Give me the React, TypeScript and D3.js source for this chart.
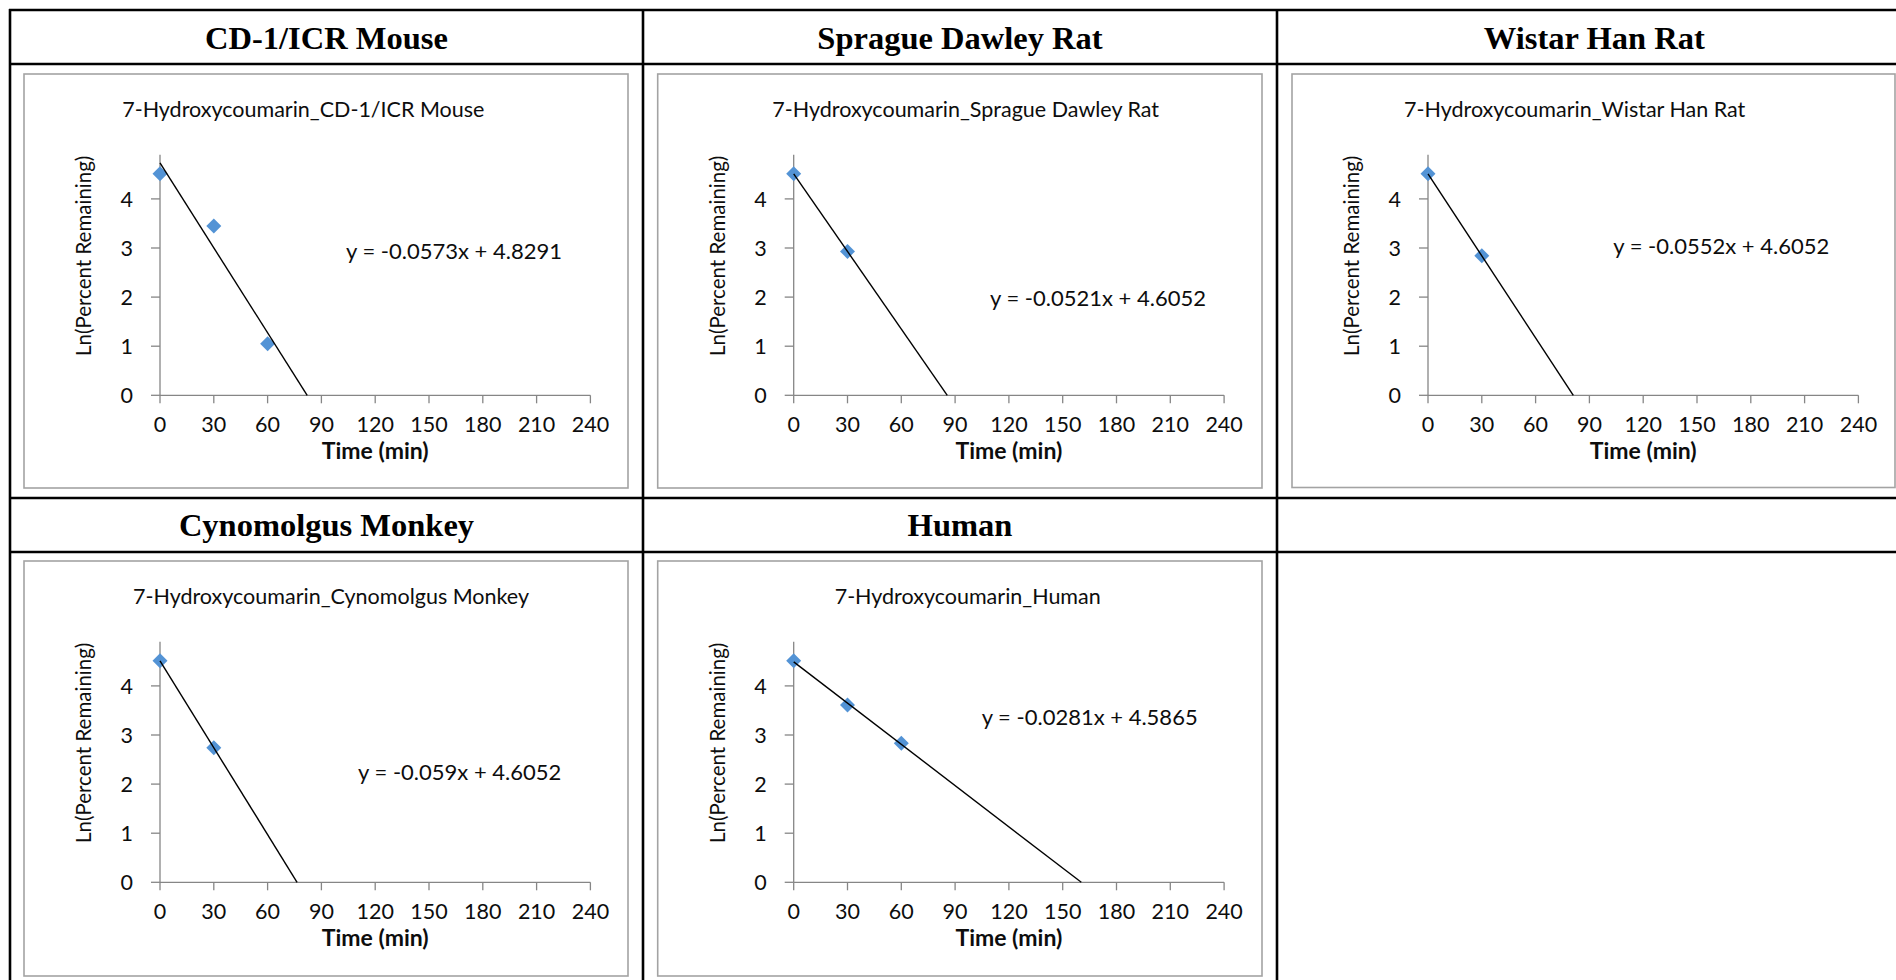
import React from 'react';
import * as d3 from 'd3';

// ---------- data ----------
const speciesNames = ['CD-1/ICR Mouse', 'Sprague Dawley Rat', 'Wistar Han Rat', 'Cynomolgus Monkey', 'Human'];
const compound = '7-Hydroxycoumarin';
const timeMin = [
  [0, 30, 60],
  [0, 30],
  [0, 30],
  [0, 30],
  [0, 30, 60],
];
const lnRemaining = [
  [4.51, 3.45, 1.05],
  [4.51, 2.93],
  [4.51, 2.84],
  [4.51, 2.74],
  [4.51, 3.61, 2.83],
];
const equations = [
  'y = -0.0573x + 4.8291',
  'y = -0.0521x + 4.6052',
  'y = -0.0552x + 4.6052',
  'y = -0.059x + 4.6052',
  'y = -0.0281x + 4.5865',
];
const xTicks = [0, 30, 60, 90, 120, 150, 180, 210, 240];
const yTicks = [0, 1, 2, 3, 4];
const xTitle = 'Time (min)';
const yTitle = 'Ln(Percent Remaining)';

// ---------- layout ----------
const W = 1896;
const H = 980;
const SERIF = '"Liberation Serif", "Times New Roman", serif';
const SANS = 'Lato, Carlito, "Open Sans", sans-serif';
const INK = '#0d0d0d';

const colLines = [10, 643, 1277];
const rowLines = [10, 64, 498, 552];
const headerCells = [
  { text: speciesNames[0], cx: 326.5, base: 48.7 },
  { text: speciesNames[1], cx: 960, base: 48.7 },
  { text: speciesNames[2], cx: 1594.3, base: 48.7 },
  { text: speciesNames[3], cx: 326.5, base: 536.3 },
  { text: speciesNames[4], cx: 960, base: 536.3 },
];
const frames = [
  { x: 24, y: 74, w: 604, h: 414 },
  { x: 657.7, y: 74, w: 604.3, h: 414 },
  { x: 1292, y: 74, w: 603, h: 413.5 },
  { x: 24, y: 561, w: 604, h: 415 },
  { x: 657.7, y: 561, w: 604.3, h: 415 },
];
const titleCx = [279.3, 308, 282.7, 307, 310];
const eqPos = [
  { dx: 322, dy: 185.3 },
  { dx: 332.3, dy: 231.5 },
  { dx: 321.3, dy: 179.5 },
  { dx: 334.1, dy: 219 },
  { dx: 324, dy: 164 },
];

const MARKER = '#5393D5';
const AXIS = '#868686';

function fit(xs: number[], ys: number[]) {
  const mx = d3.mean(xs) as number;
  const my = d3.mean(ys) as number;
  let sxy = 0, sxx = 0;
  xs.forEach((x, k) => { sxy += (x - mx) * (ys[k] - my); sxx += (x - mx) * (x - mx); });
  const m = sxy / sxx;
  return { m, b: my - m * mx };
}

function Chart({ i }: { i: number }) {
  const f = frames[i];
  const x0 = f.x + 136;
  const y0 = f.y + 321.3;
  const xs = d3.scaleLinear().domain([0, 240]).range([x0, x0 + 430.4]);
  const ys = d3.scaleLinear().domain([0, 4.9]).range([y0, y0 - 4.9 * 49.1]);
  const tx = timeMin[i];
  const ty = lnRemaining[i];
  const { m, b } = fit(tx, ty);
  const xEnd = Math.min(240, -b / m);
  const lineGen = d3.line<[number, number]>().x(d => xs(d[0])).y(d => ys(d[1]));
  const trend = lineGen([[0, b], [xEnd, m * xEnd + b]]);
  const sym = d3.symbol().type(d3.symbolSquare).size(112)();
  const [xa, xb] = xs.range();
  const [ya, yb] = ys.range();
  return (
    <g>
      <rect x={f.x} y={f.y} width={f.w} height={f.h} fill="#fff" stroke="#a3a3a3" strokeWidth={1.6} />
      <text x={f.x + titleCx[i]} y={f.y + 43} textAnchor="middle" fontFamily={SANS} fontSize={21.5} fill={INK}>
        {`${compound}_${speciesNames[i]}`}
      </text>
      {/* axes */}
      <line x1={xa} x2={xb} y1={y0} y2={y0} stroke={AXIS} strokeWidth={1.3} />
      <line x1={x0} x2={x0} y1={ya} y2={yb} stroke={AXIS} strokeWidth={1.3} />
      {xTicks.map(t => (
        <g key={'x' + t}>
          <line x1={xs(t)} x2={xs(t)} y1={y0} y2={y0 + 8} stroke={AXIS} strokeWidth={1.3} />
          <text x={xs(t)} y={y0 + 36.5} textAnchor="middle" fontFamily={SANS} fontSize={21.5} fill={INK}>{t}</text>
        </g>
      ))}
      {yTicks.map(t => (
        <g key={'y' + t}>
          <line x1={x0 - 9} x2={x0} y1={ys(t)} y2={ys(t)} stroke={AXIS} strokeWidth={1.3} />
          <text x={x0 - 27} y={ys(t)} dy="0.36em" textAnchor="end" fontFamily={SANS} fontSize={21.5} fill={INK}>{t}</text>
        </g>
      ))}
      <text x={(xa + xb) / 2} y={y0 + 63.5} textAnchor="middle" fontFamily={SANS} fontWeight={700} fontSize={23} fill={INK}>{xTitle}</text>
      <text transform={`translate(${x0 - 76},${y0 - 139.5}) rotate(-90)`} dy="0.36em" textAnchor="middle" fontFamily={SANS} fontSize={20.5} fill={INK}>{yTitle}</text>
      {/* points */}
      {tx.map((t, k) => (
        <path key={'p' + k} d={sym as string} transform={`translate(${xs(t)},${ys(ty[k])}) rotate(45)`} fill={MARKER} />
      ))}
      <path d={trend as string} fill="none" stroke="#000" strokeWidth={1.4} />
      <text x={f.x + eqPos[i].dx} y={f.y + eqPos[i].dy} fontFamily={SANS} fontSize={22} fill={INK}>{equations[i]}</text>
    </g>
  );
}

export default function App() {
  return (
    <svg width={W} height={H} viewBox={`0 0 ${W} ${H}`} style={{ position: 'absolute', left: 0, top: 0, display: 'block', background: '#fff' }}>
      <rect x={0} y={0} width={W} height={H} fill="#fff" />
      {frames.map((_, i) => <Chart key={i} i={i} />)}
      {rowLines.map(y => <line key={'r' + y} x1={9} x2={W} y1={y} y2={y} stroke="#000" strokeWidth={2.6} />)}
      {colLines.map(x => <line key={'c' + x} x1={x} x2={x} y1={9} y2={H} stroke="#000" strokeWidth={2.6} />)}
      {headerCells.map(h => (
        <text key={h.text} x={h.cx} y={h.base} textAnchor="middle" fontFamily={SERIF} fontWeight={700} fontSize={32.5} fill="#000">{h.text}</text>
      ))}
    </svg>
  );
}
